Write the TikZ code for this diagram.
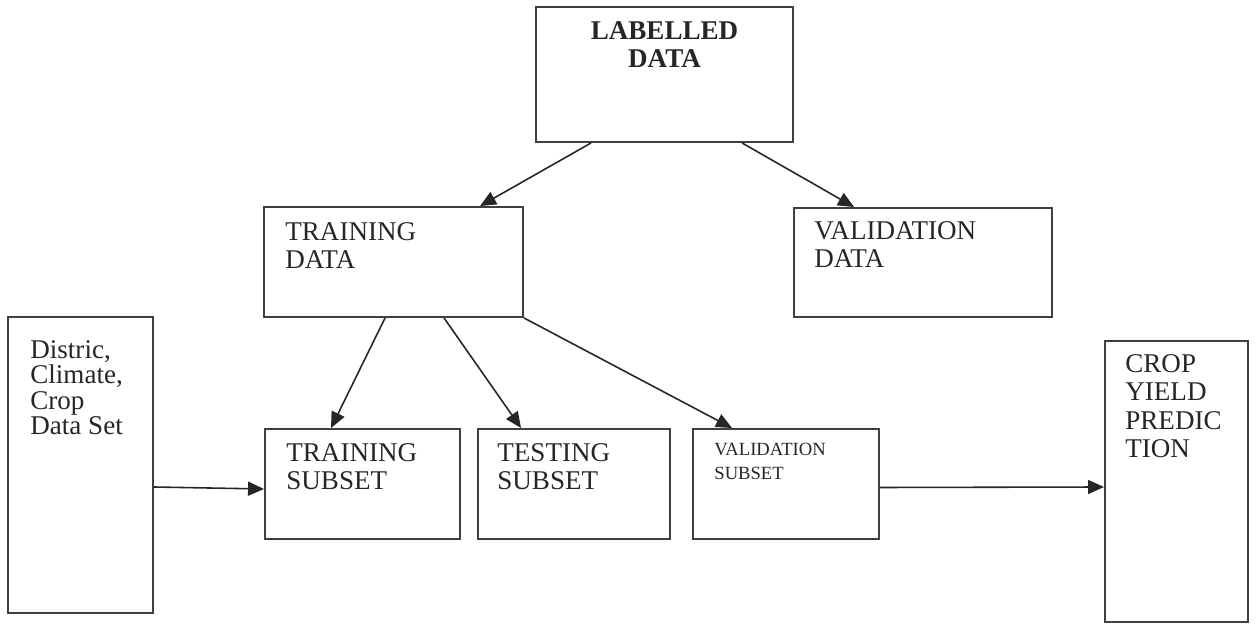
\documentclass[tikz,border=0pt]{standalone}
\usepackage{fontspec}
\setmainfont{Liberation Serif}
\usetikzlibrary{arrows.meta,calc}
\tikzset{
  box/.style={draw=black!75, line width=1.1pt, inner sep=0pt},
  txt/.style={anchor=north west, align=left, inner sep=0pt, text=black!85,
    font=\fontsize{15.4pt}{16.2pt}\selectfont},
  arr/.style={draw=black!85, line width=0.9pt, -{Triangle[length=0.32cm,width=0.28cm]}}
}
\begin{document}
\begin{tikzpicture}
    \useasboundingbox (0,0) rectangle (25.14,12.7);
    \node[box, minimum width=5.14cm, minimum height=2.70cm] (lab) at (13.29,11.21) {};
    \node[box, minimum width=5.18cm, minimum height=2.20cm] (trd) at (7.87,7.46) {};
    \node[box, minimum width=5.16cm, minimum height=2.18cm] (vad) at (18.46,7.45) {};
    \node[box, minimum width=2.90cm, minimum height=5.92cm] (src) at (1.61,3.40) {};
    \node[box, minimum width=3.90cm, minimum height=2.20cm] (trs) at (7.25,3.02) {};
    \node[box, minimum width=3.84cm, minimum height=2.20cm] (tes) at (11.48,3.02) {};
    \node[box, minimum width=3.72cm, minimum height=2.20cm] (vas) at (15.72,3.02) {};
    \node[box, minimum width=2.86cm, minimum height=5.62cm] (cyp) at (23.53,3.07) {};
    % texts
    \node[txt, anchor=north, align=center, font=\fontsize{15.4pt}{16.2pt}\selectfont\bfseries] (labt) at ([yshift=-0.30cm]lab.north) {LABELLED\\DATA};
    \node[txt] (trdt) at ([shift={(0.44,-0.32)}]trd.north west) {TRAINING\\DATA};
    \node[txt] (vadt) at ([shift={(0.42,-0.28)}]vad.north west) {VALIDATION\\DATA};
    \node[txt, font=\fontsize{15.4pt}{14.5pt}\selectfont] (srct) at ([shift={(0.46,-0.48)}]src.north west) {Distric,\\Climate,\\Crop\\Data Set};
    \node[txt] (trst) at ([shift={(0.44,-0.30)}]trs.north west) {TRAINING\\SUBSET};
    \node[txt] (test) at ([shift={(0.40,-0.30)}]tes.north west) {TESTING\\SUBSET};
    \node[txt, font=\fontsize{10.6pt}{13.7pt}\selectfont] (vast) at ([shift={(0.44,-0.30)}]vas.north west) {VALIDATION\\SUBSET};
    \node[txt] (cypt) at ([shift={(0.42,-0.28)}]cyp.north west) {CROP\\YIELD\\PREDIC\\TION};
    \draw[arr] ([xshift=1.12cm]lab.south west) -- ([xshift=4.34cm]trd.north west);
    \draw[arr] ([xshift=4.14cm]lab.south west) -- ([xshift=1.22cm]vad.north west);
    \draw[arr] ([xshift=2.44cm]trd.south west) -- ([xshift=1.34cm]trs.north west);
    \draw[arr] ([xshift=3.62cm]trd.south west) -- ([xshift=0.88cm]tes.north west);
    \draw[arr] (trd.south east) -- ([xshift=0.80cm]vas.north west);
    \draw[arr] ([yshift=-0.44cm]src.east) -- ([yshift=-0.10cm]trs.west);
    \draw[arr] ([yshift=-0.07cm]vas.east) -- ([yshift=-0.11cm]cyp.west);
\end{tikzpicture}
\end{document}
